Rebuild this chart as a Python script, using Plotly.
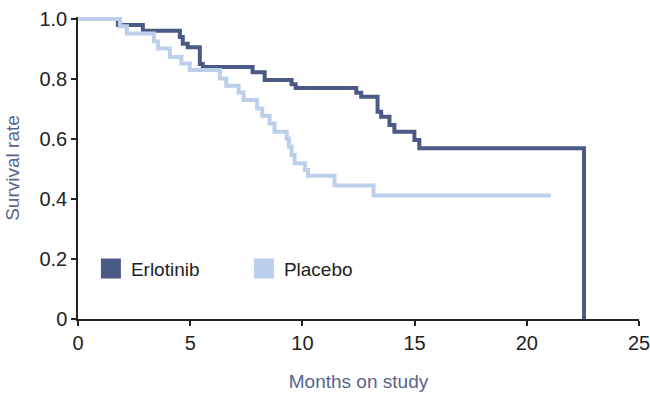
import plotly.graph_objects as go

# Erlotinib Kaplan-Meier steps (time in months, survival after step)
erl_t = [0, 1.78, 2.89, 4.54, 4.67, 4.89, 5.43, 5.56, 7.78, 8.32, 9.52, 9.70,
         12.40, 12.62, 13.35, 13.51, 13.88, 14.10, 14.99, 15.21, 22.55]
erl_s = [1.0, 0.98, 0.961, 0.94, 0.918, 0.906, 0.85, 0.84, 0.823, 0.797, 0.783, 0.77,
         0.754, 0.741, 0.691, 0.674, 0.647, 0.624, 0.597, 0.569, 0.0]

# Placebo Kaplan-Meier steps
pla_t = [0, 1.87, 2.18, 3.38, 3.57, 4.09, 4.61, 4.98, 6.32, 6.61, 7.16, 7.38, 7.98,
         8.21, 8.54, 8.76, 9.30, 9.40, 9.52, 9.65, 10.12, 10.25, 11.43, 13.17, 21.07]
pla_s = [1.0, 0.976, 0.952, 0.925, 0.902, 0.874, 0.852, 0.83, 0.802, 0.778, 0.755, 0.73, 0.702,
         0.678, 0.652, 0.624, 0.602, 0.574, 0.547, 0.519, 0.497, 0.478, 0.445, 0.412, 0.412]

x_ticks = [0, 5, 10, 15, 20, 25]
y_ticks = [0, 0.2, 0.4, 0.6, 0.8, 1.0]
y_ticktext = ["0", "0.2", "0.4", "0.6", "0.8", "1.0"]

DARK = "#4a5a84"
LIGHT = "#bccfeb"
TITLE_C = "#56658d"
FONT = "Liberation Sans, Arial, sans-serif"

fig = go.Figure()
fig.add_trace(go.Scatter(x=erl_t, y=erl_s, mode="lines", line=dict(color=DARK, width=4, shape="hv"),
                         showlegend=False, hoverinfo="skip"))
fig.add_trace(go.Scatter(x=pla_t, y=pla_s, mode="lines", line=dict(color=LIGHT, width=4, shape="hv"),
                         showlegend=False, hoverinfo="skip"))
# legend entries
fig.add_trace(go.Scatter(x=[None], y=[None], mode="markers", name="Erlotinib",
                         marker=dict(symbol="square", size=16, color=DARK, line=dict(color=DARK, width=4))))
fig.add_trace(go.Scatter(x=[None], y=[None], mode="markers", name="Placebo",
                         marker=dict(symbol="square", size=16, color=LIGHT, line=dict(color=LIGHT, width=4))))

fig.update_layout(
    width=650, height=395,
    margin=dict(l=78, r=11, t=17, b=76),
    paper_bgcolor="white", plot_bgcolor="white",
    font=dict(family=FONT, size=19, color="#222222"),
    showlegend=True,
    legend=dict(orientation="h", x=0.023, y=0.167, xanchor="left", yanchor="middle",
                bgcolor="rgba(0,0,0,0)", font=dict(size=19, color="#222222"),
                entrywidth=108, entrywidthmode="pixels", itemclick=False),
    xaxis=dict(range=[0, 25], tickvals=x_ticks, showgrid=False, zeroline=False, automargin=False,
               showline=True, linecolor="#222222", linewidth=1.5,
               ticks="outside", ticklen=5, tickcolor="#222222", tickwidth=1.5,
               tickfont=dict(size=20), ticklabeloverflow="allow",
               title=dict(text="Months on study", font=dict(color=TITLE_C, size=19), standoff=22)),
    yaxis=dict(range=[0, 1.007], tickvals=y_ticks, ticktext=y_ticktext, showgrid=False, zeroline=False,
               automargin=False,
               showline=True, linecolor="#222222", linewidth=1.5,
               ticks="outside", ticklen=5, tickcolor="#222222", tickwidth=1.5,
               tickfont=dict(size=20),
               title=dict(text="Survival rate", font=dict(color=TITLE_C, size=19), standoff=15)),
)

fig.write_html("out.html", config={"displayModeBar": False},
               post_script="document.body.style.margin='0';document.body.style.overflow='hidden';")
